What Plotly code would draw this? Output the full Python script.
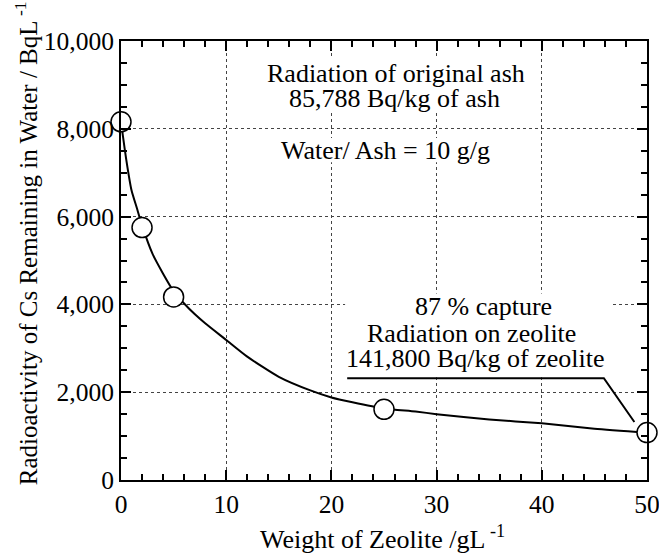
import plotly.graph_objects as go

# measured points
zeolite_g_per_L = [0, 2, 5, 25, 50]
cs_remaining = [8160, 5750, 4170, 1610, 1080]

# fitted curve
curve_x = [0, 0.5, 1, 1.5, 2, 3, 4, 5, 6, 7, 8, 10, 12, 15, 18, 20, 22, 25, 28, 30, 35, 40, 45, 50]
curve_y = [8160, 7300, 6600, 6200, 5800, 5150, 4700, 4300, 4020, 3780, 3570, 3190, 2810, 2350, 2040, 1880, 1770, 1630, 1560, 1500, 1380, 1290, 1170, 1080]

x_ticks = [0, 10, 20, 30, 40, 50]
y_ticks = [0, 2000, 4000, 6000, 8000, 10000]

FONT = "Liberation Serif"

fig = go.Figure()
fig.add_trace(go.Scatter(x=curve_x, y=curve_y, mode="lines",
                         line=dict(color="black", width=2, shape="spline", smoothing=0.6),
                         hoverinfo="skip", showlegend=False))
fig.add_trace(go.Scatter(x=zeolite_g_per_L, y=cs_remaining, mode="markers",
                         marker=dict(symbol="circle", size=20, color="white",
                                     line=dict(color="black", width=1.5)),
                         cliponaxis=False, showlegend=False))

# white patches behind the text blocks (hide gridlines, as in the original)
for x0, x1, y0, y1 in [(13.8, 38.4, 8400, 9600), (14.8, 35.6, 7240, 7790), (21.3, 46.6, 2340, 4250)]:
    fig.add_shape(type="rect", x0=x0, x1=x1, y0=y0, y1=y1, xref="x", yref="y",
                  fillcolor="white", line=dict(width=0), layer="between")

# leader line for the capture annotation
fig.add_shape(type="path", path="M 21.5 2320 L 45.9 2320 L 48.8 1320",
              xref="x", yref="y", line=dict(color="black", width=2))

def note(text, x, y):
    fig.add_annotation(text=text, x=x, y=y, xref="x", yref="y", showarrow=False,
                       font=dict(family=FONT, size=26, color="black"),
                       xanchor="center", yanchor="middle")

note("Radiation of original ash", 26.1, 9270)
note("85,788 Bq/kg of ash", 26.0, 8700)
note("Water/ Ash = 10 g/g", 25.1, 7510)
note("87 % capture", 34.5, 3945)
note("Radiation on zeolite", 33.3, 3345)
note("141,800 Bq/kg of zeolite", 33.7, 2775)

# axis titles as annotations for exact placement
fig.add_annotation(text="Weight of Zeolite /gL<sup> -1</sup>", xref="paper", yref="paper",
                   x=0.497, y=-0.13, showarrow=False, xanchor="center", yanchor="middle",
                   font=dict(family=FONT, size=26, color="black"))
fig.add_annotation(text="Radioactivity of Cs Remaining in Water / BqL<sup> -1</sup>", xref="paper", yref="paper",
                   x=-0.18, y=0.54, showarrow=False, xanchor="center", yanchor="middle", textangle=-90,
                   font=dict(family=FONT, size=25, color="black"))

axis_common = dict(
    showline=True, linecolor="black", linewidth=2, mirror="ticks",
    ticks="inside", tickcolor="black", tickwidth=2, ticklen=10,
    showgrid=True, gridcolor="#444444", gridwidth=1, griddash="dot",
    zeroline=False, automargin=False, ticklabeloverflow="allow",
    tickfont=dict(family=FONT, size=25.5, color="black"),
)

fig.update_xaxes(range=[0, 50], tickvals=x_ticks, ticktext=[str(v) for v in x_ticks],
                 minor=dict(dtick=2, ticks="inside", ticklen=6, tickwidth=1.5, tickcolor="black", showgrid=False),
                 **axis_common)
fig.update_yaxes(range=[0, 10000], tickvals=y_ticks, tickformat=",",
                 minor=dict(dtick=500, ticks="inside", ticklen=6, tickwidth=1.5, tickcolor="black", showgrid=False),
                 **axis_common)

fig.update_layout(width=659, height=554,
                  margin=dict(l=121, r=12, t=41, b=74),
                  paper_bgcolor="white", plot_bgcolor="white",
                  showlegend=False)

fig.write_html("out.html", config={"displayModeBar": False},
               post_script="document.body.style.margin='0';document.body.style.overflow='hidden';")
